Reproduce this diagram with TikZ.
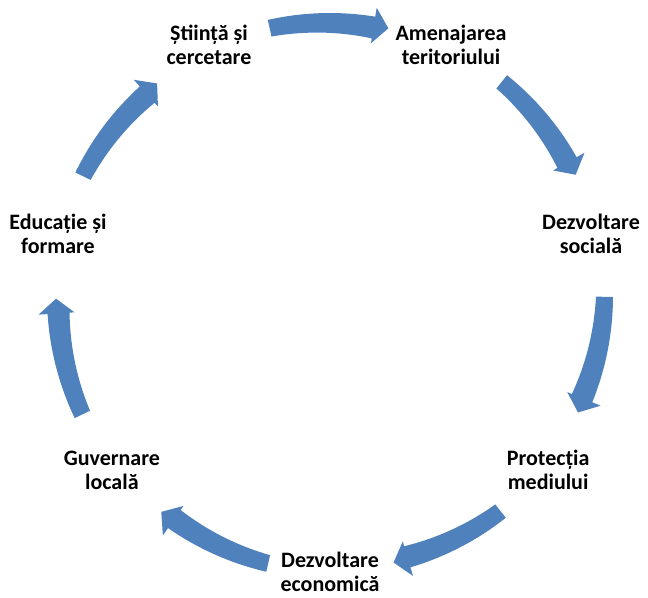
\documentclass[tikz,border=0pt]{standalone}
\usepackage{fontspec}
\setmainfont{Carlito}
\definecolor{cycleblue}{HTML}{4F81BD}
\tikzset{
  lbl/.style={align=center, inner sep=0pt, font=\fontsize{16.5}{18}\selectfont\bfseries, text=black},
  arrowfill/.style={fill=cycleblue}
}
\begin{document}
\begin{tikzpicture}[x=0.75pt,y=0.75pt]
\useasboundingbox (-330,-301) rectangle (318,296);
% labels
\node[lbl] (stiinta) at (115.714:279) {Știință și\\cercetare};
\node[lbl] (amenajarea) at (64.286:279) {Amenajarea\\teritoriului};
\node[lbl] (social) at (261,62) {Dezvoltare\\socială};
\node[lbl] (mediu) at (-38.571:279) {Protecția\\mediului};
\node[lbl] (economic) at (-90:276) {Dezvoltare\\economică};
\node[lbl] (guvernare) at (-141.429:279) {Guvernare\\locală};
\node[lbl] (educatie) at (167.143:279) {Educație și\\formare};
% curved block arrows (clockwise)
\foreach \m in {90, 38.571, -12.857, -64.286, -115.714, -167.143, 141.429} {
  \pgfmathsetmacro\ta{\m+12.7}
  \pgfmathsetmacro\ha{\m-9.2}
  \pgfmathsetmacro\pa{\m-12.3}
  \fill[arrowfill] plot[domain=\ta:\ha, samples=25] (\x:283) -- (\ha:292) -- (\pa:274) -- (\ha:256)
    -- plot[domain=\ha:\ta, samples=25] (\x:{261+5*(\x-\ha)/(\ta-\ha)}) -- cycle;
}
\end{tikzpicture}
\end{document}
